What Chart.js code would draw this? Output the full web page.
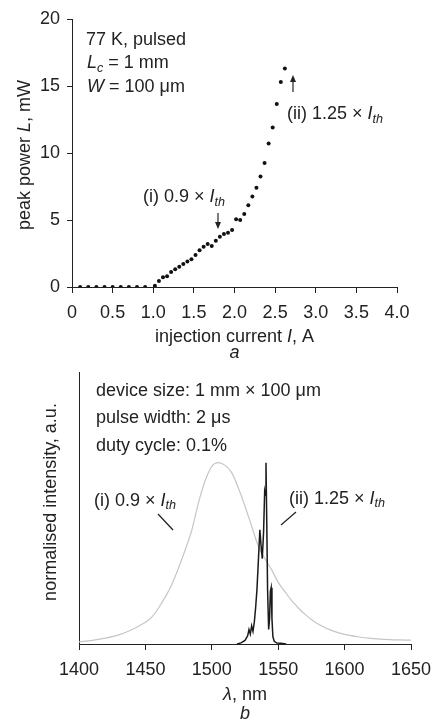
<!DOCTYPE html>
<html>
<head>
<meta charset="utf-8">
<script src="https://cdn.jsdelivr.net/npm/chart.js@4.4.0/dist/chart.umd.min.js"></script>
<style>
html, body { margin: 0; padding: 0; background: #fff; overflow: hidden; }
#wrap { position: relative; width: 432px; height: 725px; }
canvas { position: absolute; left: 0; }
</style>
</head>
<body>
<div id="wrap">
  <canvas id="chartA" width="432" height="362" style="top:0;width:432px;height:362px"></canvas>
  <canvas id="chartB" width="432" height="363" style="top:362px;width:432px;height:363px"></canvas>
</div>
<script>
// ---- data: (a) L-I curve ----
const currentA = [0.1, 0.2, 0.3, 0.4, 0.5, 0.6, 0.7, 0.8, 0.9, 1.02,
  1.07, 1.12, 1.17, 1.22, 1.27, 1.32, 1.37, 1.42, 1.47, 1.52, 1.57, 1.62, 1.67, 1.72, 1.77,
  1.82, 1.87, 1.92, 1.97, 2.02, 2.07, 2.12, 2.17, 2.22, 2.27, 2.32, 2.37, 2.42, 2.47, 2.52,
  2.57, 2.62];
const powerMW = [0, 0, 0, 0, 0, 0, 0, 0, 0, 0.1,
  0.45, 0.72, 0.8, 1.12, 1.32, 1.52, 1.72, 1.9, 2.07, 2.38, 2.75, 3.0, 3.2, 3.06, 3.45,
  3.75, 3.95, 4.05, 4.25, 5.05, 5.0, 5.45, 6.1, 6.75, 7.4, 8.25, 9.25, 10.7, 11.9, 13.65,
  15.3, 16.3];
const xTicksA = [0, 0.5, 1.0, 1.5, 2.0, 2.5, 3.0, 3.5, 4.0];
const yTicksA = [0, 5, 10, 15, 20];

// ---- data: (b) spectra ----
// (i) 0.9 x Ith, spontaneous emission
const lambdaSpont = [1400, 1410, 1420, 1430, 1440, 1450, 1455, 1460, 1465, 1470, 1475, 1480,
  1485, 1490, 1495, 1500, 1505, 1510, 1515, 1520, 1525, 1530, 1535, 1540, 1545, 1550, 1555,
  1560, 1565, 1570, 1575, 1580, 1590, 1600, 1610, 1620, 1630, 1640, 1650];
const intSpont = [0.012, 0.02, 0.032, 0.05, 0.08, 0.12, 0.15, 0.2, 0.26, 0.33, 0.42, 0.52,
  0.63, 0.78, 0.9, 0.98, 1.0, 0.985, 0.945, 0.86, 0.76, 0.65, 0.54, 0.47, 0.41, 0.34, 0.29,
  0.24, 0.2, 0.165, 0.135, 0.11, 0.075, 0.053, 0.04, 0.031, 0.026, 0.023, 0.021];
// (ii) 1.25 x Ith, lasing
const lambdaLas = [1519, 1522, 1525, 1527, 1528, 1529, 1530, 1531, 1532, 1533, 1534, 1535,
  1536.2, 1537, 1538, 1539, 1539.8, 1540.3, 1540.8, 1541.3, 1542, 1542.8, 1543.5, 1544.1,
  1544.7, 1545.3, 1546, 1547, 1549, 1552, 1556];
const intLas = [0, 0.006, 0.02, 0.045, 0.08, 0.055, 0.1, 0.07, 0.12, 0.2, 0.3, 0.45,
  0.63, 0.55, 0.47, 0.62, 0.84, 0.82, 1.0, 0.72, 0.3, 0.08, 0.14, 0.29,
  0.31, 0.14, 0.04, 0.015, 0.005, 0.004, 0];
const xTicksB = [1400, 1450, 1500, 1550, 1600, 1650];

const FONT = "'Liberation Sans', Arial, Helvetica, sans-serif";
const INK = '#222';
const FS = 18;
Chart.defaults.font.family = FONT;
Chart.defaults.font.size = FS;
Chart.defaults.color = INK;

function fontStr(size, italic) {
  return (italic ? 'italic ' : '') + size + 'px ' + FONT;
}

// parts: [text, flags]  flags: i = italic, s = subscript
function drawRich(ctx, parts, x, y, size, align) {
  let w = 0;
  parts.forEach(p => {
    const f = p[1] || '';
    ctx.font = fontStr(f.includes('s') ? size * 0.7 : size, f.includes('i'));
    w += ctx.measureText(p[0]).width;
  });
  let cx = align === 'center' ? x - w / 2 : x;
  ctx.textAlign = 'left';
  ctx.textBaseline = 'alphabetic';
  parts.forEach(p => {
    const f = p[1] || '';
    const sub = f.includes('s');
    ctx.font = fontStr(sub ? size * 0.7 : size, f.includes('i'));
    ctx.fillText(p[0], cx, y + (sub ? size * 0.22 : 0));
    cx += ctx.measureText(p[0]).width;
  });
}

function arrow(ctx, x, y0, y1) {
  // shaft from y0 to the head tip at y1
  const dir = y1 > y0 ? 1 : -1;
  ctx.beginPath();
  ctx.moveTo(x, y0);
  ctx.lineTo(x, y1 - dir * 5);
  ctx.stroke();
  ctx.beginPath();
  ctx.moveTo(x, y1);
  ctx.lineTo(x - 3, y1 - dir * 7);
  ctx.lineTo(x + 3, y1 - dir * 7);
  ctx.closePath();
  ctx.fill();
}

const notesPlugin = {
  id: 'notes',
  afterDraw(chart, args, opts) {
    const ctx = chart.ctx;
    ctx.save();
    ctx.fillStyle = INK;
    ctx.strokeStyle = INK;
    ctx.lineWidth = 1.2;
    (opts.texts || []).forEach(t => {
      ctx.save();
      ctx.translate(t.x, t.y);
      if (t.rot) ctx.rotate(t.rot);
      drawRich(ctx, t.parts, 0, 0, t.size || FS, t.align);
      ctx.restore();
    });
    (opts.arrows || []).forEach(a => arrow(ctx, a[0], a[1], a[2]));
    (opts.lines || []).forEach(l => {
      ctx.beginPath();
      ctx.moveTo(l[0], l[1]);
      ctx.lineTo(l[2], l[3]);
      ctx.stroke();
    });
    ctx.restore();
  }
};

const ITH = [['I', 'i'], ['th', 'is']];

// chart a - scatter
const chartA = new Chart(document.getElementById('chartA'), {
  type: 'scatter',
  data: {
    datasets: [{
      data: currentA.map((c, i) => ({ x: c, y: powerMW[i] })),
      backgroundColor: '#111',
      borderWidth: 0,
      pointRadius: 2,
      showLine: false
    }]
  },
  options: {
    responsive: false,
    animation: false,
    devicePixelRatio: 1,
    layout: { padding: { top: 19, right: 35, left: 0, bottom: 0 } },
    plugins: {
      legend: { display: false },
      tooltip: { enabled: false },
      notes: {
        texts: [
          { x: 86, y: 45, parts: [['77 K, pulsed']] },
          { x: 87, y: 68, parts: [['L', 'i'], ['c', 'is'], [' = 1 mm']] },
          { x: 87, y: 92, parts: [['W', 'i'], [' = 100 μm']] },
          { x: 143, y: 202, parts: [['(i) 0.9 × ']].concat(ITH) },
          { x: 287, y: 119, parts: [['(ii) 1.25 × ']].concat(ITH) },
          { x: 234.5, y: 342, align: 'center', parts: [['injection current '], ['I', 'i'], [', A']] },
          { x: 234.5, y: 358, align: 'center', parts: [['a', 'i']] },
          { x: 30, y: 155, rot: -Math.PI / 2, align: 'center', parts: [['peak power '], ['L', 'i'], [', mW']] }
        ],
        arrows: [[218, 213, 229], [293, 92, 75]]
      }
    },
    scales: {
      x: {
        type: 'linear', min: 0, max: 4,
        afterFit: s => { s.height = 75; s.paddingLeft = 0; s.paddingRight = 0; },
        afterBuildTicks: s => { s.ticks = xTicksA.map(v => ({ value: v })); },
        ticks: { padding: 9, maxRotation: 0, autoSkip: false,
          callback: v => v === 0 ? '0' : v.toFixed(1) },
        grid: { drawOnChartArea: false, tickLength: 6, color: INK },
        border: { color: INK }
      },
      y: {
        min: 0, max: 20,
        afterFit: s => { s.width = 72; },
        afterBuildTicks: s => { s.ticks = yTicksA.map(v => ({ value: v })); },
        ticks: { padding: 7, callback: v => String(v) },
        grid: { drawOnChartArea: false, tickLength: 5, color: INK },
        border: { color: INK }
      }
    }
  },
  plugins: [notesPlugin]
});

// chart b - spectra
const chartB = new Chart(document.getElementById('chartB'), {
  type: 'line',
  data: {
    datasets: [{
      label: '(ii) 1.25 x Ith',
      data: lambdaLas.map((l, i) => ({ x: l, y: intLas[i] })),
      borderColor: '#1a1a1a',
      borderWidth: 1.5,
      pointRadius: 0,
      tension: 0,
      order: 0
    }, {
      label: '(i) 0.9 x Ith',
      data: lambdaSpont.map((l, i) => ({ x: l, y: intSpont[i] })),
      borderColor: '#c6c6c6',
      borderWidth: 1.2,
      pointRadius: 0,
      cubicInterpolationMode: 'monotone',
      order: 1
    }]
  },
  options: {
    responsive: false,
    animation: false,
    devicePixelRatio: 1,
    layout: { padding: { top: 10, right: 21, left: 0, bottom: 0 } },
    plugins: {
      legend: { display: false },
      tooltip: { enabled: false },
      notes: {
        texts: [
          { x: 96, y: 34, parts: [['device size: 1 mm × 100 μm']] },
          { x: 96, y: 60.5, parts: [['pulse width: 2 μs']] },
          { x: 96, y: 89, parts: [['duty cycle: 0.1%']] },
          { x: 94, y: 143.5, parts: [['(i) 0.9 × ']].concat(ITH) },
          { x: 289, y: 141.5, parts: [['(ii) 1.25 × ']].concat(ITH) },
          { x: 245, y: 338, align: 'center', parts: [['λ', 'i'], [', nm']] },
          { x: 245, y: 357, align: 'center', parts: [['b', 'i']] },
          { x: 56, y: 140, rot: -Math.PI / 2, align: 'center', parts: [['normalised intensity, a.u.']] }
        ],
        lines: [[158, 152, 173, 168], [296, 150, 281, 163]]
      }
    },
    scales: {
      x: {
        type: 'linear', min: 1400, max: 1650,
        afterFit: s => { s.height = 81; s.paddingLeft = 0; s.paddingRight = 0; },
        afterBuildTicks: s => { s.ticks = xTicksB.map(v => ({ value: v })); },
        ticks: { padding: 9.6, maxRotation: 0, autoSkip: false, callback: v => String(v) },
        grid: { drawOnChartArea: false, tickLength: 6, color: INK },
        border: { color: INK }
      },
      y: {
        min: 0, max: 1.5,
        afterFit: s => { s.width = 79; },
        ticks: { display: false },
        grid: { display: false },
        border: { color: INK }
      }
    }
  },
  plugins: [notesPlugin]
});
</script>
</body>
</html>
